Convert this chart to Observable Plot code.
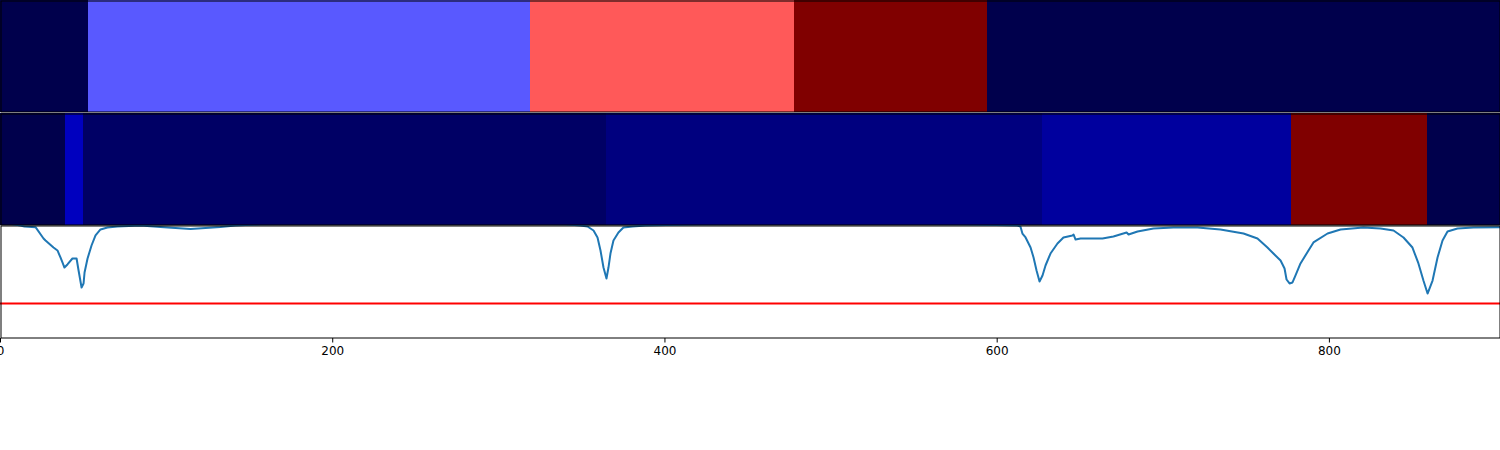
<!DOCTYPE html>
<html>
<head>
<meta charset="utf-8">
<script src="https://cdn.jsdelivr.net/npm/d3@7"></script>
<script src="https://cdn.jsdelivr.net/npm/@observablehq/plot@0.6"></script>
<style>
  html, body { margin: 0; padding: 0; background: #fff; }
  #chart { width: 1500px; line-height: 0; }
  #chart svg { display: block; overflow: visible; }
  .gap { height: 1px; background: #fff; }
</style>
</head>
<body>
<div id="chart"></div>
<script>
// ---- data ----
const xMax = 903;
const tickValues = [0, 200, 400, 600, 800];

// top strip: segment boundaries and colour values (0..1 on seismic)
const topBounds = [0, 53, 319, 478, 594, 903];
const topValues = [0.0, 0.3375, 0.6625, 1.0, 0.0];

// middle strip
const midBounds = [0, 39, 50, 364.6, 627, 777, 859, 903];
const midValues = [0.0, 0.16, 0.035, 0.071, 0.115, 1.0, 0.0];

// line series
const lineX = [0, 12, 14.4, 21.1, 25.9, 27.1, 31.9, 34.3, 36.1, 37.3, 38.5, 40.3, 43.3, 45.8, 47.0, 48.8, 50.0, 50.6, 52.4, 54.8, 57.2, 60.2, 64.4, 70.4, 84.3, 96.3, 114.4, 132.4, 141.5, 156.5, 200, 300, 340, 349.2, 353.4, 357.0, 359.4, 361.2, 363.0, 364.8, 366.0, 367.2, 369.0, 372.0, 375.0, 380.5, 388.3, 420, 500, 580, 612.2, 614.0, 615.2, 617.1, 620.1, 621.9, 623.7, 625.5, 627.3, 629.1, 632.1, 636.3, 639.9, 645.3, 646.0, 647.2, 650.2, 663.4, 670.0, 677.9, 679.1, 684.5, 694.1, 706.1, 720.6, 734.4, 748.3, 756.7, 762.7, 766.3, 770.6, 773.0, 774.2, 776.0, 777.8, 779.6, 782.6, 787.4, 790.4, 798.9, 806.7, 820.5, 830.8, 838.6, 844.6, 850.0, 853.6, 856.6, 859.1, 862.1, 865.1, 868.1, 871.1, 877.1, 886.7, 903];
const lineY = [1.03, 1.0, 0.991, 0.985, 0.885, 0.867, 0.805, 0.779, 0.717, 0.673, 0.628, 0.655, 0.708, 0.708, 0.602, 0.451, 0.487, 0.584, 0.708, 0.823, 0.912, 0.965, 0.982, 0.991, 1.0, 0.987, 0.969, 0.987, 1.0, 1.01, 1.02, 1.02, 1.01, 1.0, 0.991, 0.956, 0.894, 0.779, 0.628, 0.531, 0.628, 0.752, 0.867, 0.938, 0.982, 0.991, 1.0, 1.01, 1.02, 1.01, 1.0, 0.991, 0.929, 0.894, 0.805, 0.717, 0.602, 0.504, 0.558, 0.646, 0.752, 0.841, 0.894, 0.912, 0.920, 0.876, 0.885, 0.885, 0.903, 0.938, 0.920, 0.947, 0.973, 0.982, 0.982, 0.965, 0.929, 0.885, 0.805, 0.752, 0.690, 0.619, 0.522, 0.487, 0.496, 0.558, 0.664, 0.779, 0.850, 0.929, 0.965, 0.982, 0.973, 0.956, 0.894, 0.805, 0.664, 0.513, 0.398, 0.513, 0.717, 0.867, 0.947, 0.973, 0.982, 0.985];
const threshold = 0.31;

// ---- build tables ----
const segs = (b, v) => v.map((val, i) => ({start: b[i], end: b[i + 1], v: val}));
const topSegs = segs(topBounds, topValues);
const midSegs = segs(midBounds, midValues);
const series = lineX.map((x, i) => ({x, y: lineY[i]}));

const seismic = d3.piecewise(d3.interpolateRgb, ["#00004c", "#0000ff", "#ffffff", "#ff0000", "#800000"]);
const colorOpts = {type: "linear", domain: [0, 1], interpolate: seismic};
const xOpts = {domain: [0, xMax], axis: null};

function strip(data) {
  return Plot.plot({
    width: 1500, height: 112,
    marginTop: 0, marginBottom: 0, marginLeft: 0, marginRight: 0,
    x: xOpts, y: {axis: null}, color: colorOpts,
    marks: [
      Plot.barX(data, {x1: "start", x2: "end", fill: "v", shapeRendering: "crispEdges"}),
      Plot.frame({stroke: "black", inset: 0.5})
    ]
  });
}

const p1 = strip(topSegs);
const p2 = strip(midSegs);

const p3 = Plot.plot({
  width: 1500, height: 225,
  marginTop: 0, marginBottom: 112, marginLeft: 0, marginRight: 0,
  style: {fontFamily: "DejaVu Sans", fontSize: "12px", color: "black"},
  x: {domain: [0, xMax], ticks: tickValues, label: null},
  y: {domain: [0, 1], axis: null},
  marks: [
    Plot.ruleY([threshold], {stroke: "red", strokeWidth: 2}),
    Plot.line(series, {x: "x", y: "y", stroke: "#1f77b4", strokeWidth: 2, clip: true}),
    Plot.frame({stroke: "black", inset: 0.5}),
    Plot.axisX({ticks: tickValues, tickSize: 4.5, tickPadding: 3, fontSize: 12, stroke: "black", label: null})
  ]
});

const chart = document.getElementById("chart");
chart.appendChild(p1);
const gap = document.createElement("div");
gap.className = "gap";
chart.appendChild(gap);
chart.appendChild(p2);
chart.appendChild(p3);
</script>
</body>
</html>
